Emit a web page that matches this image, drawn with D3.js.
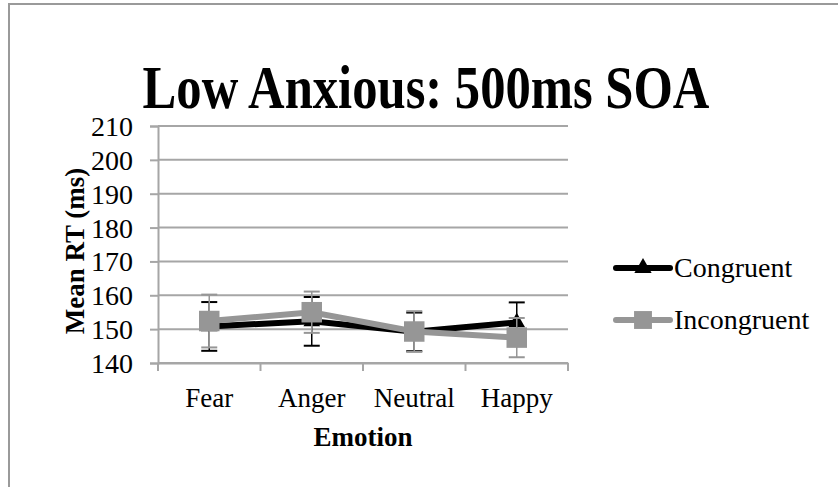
<!DOCTYPE html>
<html>
<head>
<meta charset="utf-8">
<script src="https://cdnjs.cloudflare.com/ajax/libs/d3/7.8.5/d3.min.js"></script>
<style>
  body { margin: 0; background: #fff; }
  svg text { font-family: "Liberation Serif", "DejaVu Serif", serif; fill: #000; }
</style>
</head>
<body>
<svg id="chart" width="838" height="487"></svg>
<script>
// chart data
const emotions = ["Fear", "Anger", "Neutral", "Happy"];
const congruent = [150.8, 152.3, 149.2, 152.0];
const congruentErr = [7.2, 7.2, 5.7, 5.9];
const incongruent = [152.4, 155.0, 149.3, 147.5];
const incongruentErr = [7.8, 6.1, 6.0, 5.8];
const yTicks = [140, 150, 160, 170, 180, 190, 200, 210];

const svg = d3.select("#chart");

// outer frame (only left + top visible in the crop)
svg.append("path")
    .attr("d", "M9,487 V4 H838")
    .attr("fill", "none")
    .attr("stroke", "#9a9a9a")
    .attr("stroke-width", 2);

// title (Cambria-like: tall and narrow, squeeze horizontally)
svg.append("text")
    .attr("transform", "translate(426,108) scale(0.83,1)")
    .attr("text-anchor", "middle")
    .style("font-size", "61px")
    .style("font-weight", "bold")
    .text("Low Anxious: 500ms SOA");

const x = d3.scaleBand().domain(emotions).range([158, 568]);
const y = d3.scaleLinear().domain([140, 210]).range([363, 126]);

// gridlines
svg.append("g")
    .selectAll("line")
    .data(yTicks)
    .enter()
    .append("line")
    .attr("x1", 158)
    .attr("x2", 568)
    .attr("y1", d => y(d))
    .attr("y2", d => y(d))
    .attr("stroke", "#a6a6a6")
    .attr("stroke-width", 2);

// y axis
let yAxis = svg.append("g")
    .attr("transform", "translate(158,0)")
    .call(d3.axisLeft(y).tickValues(yTicks).tickSize(8).tickPadding(17));
yAxis.select(".domain").attr("stroke", "#a6a6a6").attr("stroke-width", 2);
yAxis.selectAll(".tick line").attr("stroke", "#a6a6a6").attr("stroke-width", 2);
yAxis.selectAll(".tick text")
    .attr("dy", "0.34em")
    .style("font-size", "28px")
    .style("font-family", "Liberation Serif, serif");

// x axis: ticks on category boundaries
let xAxis = svg.append("g")
    .attr("transform", "translate(0,363)")
    .call(d3.axisBottom(x).tickSize(0).tickPadding(0));
xAxis.select(".domain").attr("stroke", "#a6a6a6").attr("stroke-width", 2);
xAxis.selectAll(".tick text")
    .attr("y", 44)
    .attr("dy", 0)
    .style("font-size", "27px")
    .style("font-family", "Liberation Serif, serif");
svg.append("g")
    .selectAll("line")
    .data(emotions.concat(["end"]))
    .enter()
    .append("line")
    .attr("x1", (d, i) => i < emotions.length ? x(d) : x.range()[1])
    .attr("x2", (d, i) => i < emotions.length ? x(d) : x.range()[1])
    .attr("y1", 363)
    .attr("y2", 371)
    .attr("stroke", "#a6a6a6")
    .attr("stroke-width", 2);

// axis titles
svg.append("text")
    .attr("x", 363)
    .attr("y", 446)
    .attr("text-anchor", "middle")
    .style("font-size", "27px")
    .style("font-weight", "bold")
    .text("Emotion");

svg.append("text")
    .attr("transform", "translate(84,251) rotate(-90)")
    .attr("text-anchor", "middle")
    .style("font-size", "27px")
    .style("font-weight", "bold")
    .text("Mean RT (ms)");

const cx = d => x(d) + x.bandwidth() / 2;
const line = d3.line().x(d => cx(d.e)).y(d => y(d.v));

function drawSeries(vals, errs, color, symbol, size) {
    let pts = emotions.map((e, i) => ({e: e, v: vals[i], err: errs[i]}));
    let g = svg.append("g");

    // error bars
    pts.forEach(p => {
        let xc = cx(p.e);
        g.append("line")
            .attr("x1", xc).attr("x2", xc)
            .attr("y1", y(p.v + p.err)).attr("y2", y(p.v - p.err))
            .attr("stroke", color).attr("stroke-width", 1.5);
        [p.v + p.err, p.v - p.err].forEach(v => {
            g.append("line")
                .attr("x1", xc - 8).attr("x2", xc + 8)
                .attr("y1", y(v)).attr("y2", y(v))
                .attr("stroke", color).attr("stroke-width", 2);
        });
    });

    g.append("path")
        .datum(pts)
        .attr("d", line)
        .attr("fill", "none")
        .attr("stroke", color)
        .attr("stroke-width", 6);

    g.selectAll(".marker")
        .data(pts)
        .enter()
        .append("path")
        .attr("class", "marker")
        .attr("transform", d => "translate(" + cx(d.e) + "," + y(d.v) + ")")
        .attr("d", d3.symbol().type(symbol).size(size))
        .attr("fill", color);
}

drawSeries(congruent, congruentErr, "#000000", d3.symbolTriangle, 120);
drawSeries(incongruent, incongruentErr, "#969696", d3.symbolSquare, 420);

// legend
const legendItems = [
    {name: "Congruent", color: "#000000", symbol: d3.symbolTriangle, size: 130, y: 268},
    {name: "Incongruent", color: "#969696", symbol: d3.symbolSquare, size: 320, y: 320}
];
legendItems.forEach(l => {
    svg.append("line")
        .attr("x1", 616).attr("x2", 670)
        .attr("y1", l.y).attr("y2", l.y)
        .attr("stroke", l.color)
        .attr("stroke-width", 6)
        .attr("stroke-linecap", "round");
    svg.append("path")
        .attr("transform", "translate(643," + l.y + ")")
        .attr("d", d3.symbol().type(l.symbol).size(l.size))
        .attr("fill", l.color);
    svg.append("text")
        .attr("x", 674)
        .attr("y", l.y + 9)
        .style("font-size", "28px")
        .text(l.name);
});
</script>
</body>
</html>
